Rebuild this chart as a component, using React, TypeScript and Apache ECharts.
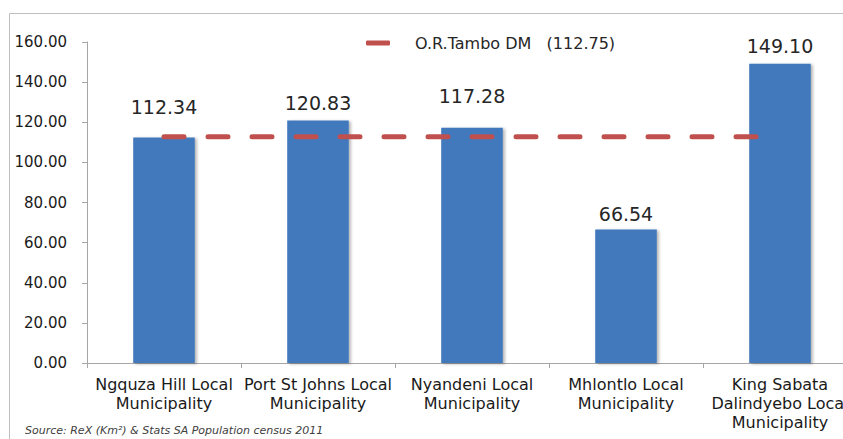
import React, { useEffect, useRef } from "react";
import * as echarts from "echarts";

const categories = [
  "Ngquza Hill Local\nMunicipality",
  "Port St Johns Local\nMunicipality",
  "Nyandeni Local\nMunicipality",
  "Mhlontlo Local\nMunicipality",
  "King Sabata\nDalindyebo Local\nMunicipality",
];
const barValues = [112.34, 120.83, 117.28, 66.54, 149.1];
const labelDistances = [21, 8, 22, 6, 8];
const districtName = "O.R.Tambo DM";
const districtValue = 112.75;
const districtLine = categories.map(() => districtValue);
const yTicks = { min: 0, max: 160, interval: 20 };
const sourceText = "Source: ReX (Km²) & Stats SA Population census 2011";

const FONT = "DejaVu Sans, Verdana, sans-serif";

export default function App() {
  const ref = useRef<HTMLDivElement>(null);
  useEffect(() => {
    if (!ref.current) return;
    const chart = echarts.init(ref.current, undefined, { renderer: "svg" });
    chart.setOption({
      animation: false,
      backgroundColor: "#ffffff",
      textStyle: { fontFamily: FONT },
      grid: { left: 87, top: 42, bottom: 76, right: 0, containLabel: false },
      legend: {
        top: 35,
        left: 366,
        padding: 0,
        itemWidth: 24,
        itemHeight: 5,
        icon: "roundRect",
        data: [{ name: districtName, itemStyle: { color: "#C0504D" } }],
        formatter: () => districtName + "\u00a0\u00a0\u00a0(" + districtValue.toFixed(2) + ")",
        textStyle: { fontSize: 16, color: "#262626", fontFamily: FONT, padding: [0, 0, 0, 20] },
      },
      xAxis: {
        type: "category",
        data: categories,
        axisLine: { show: true, lineStyle: { color: "#A6A6A6", width: 1 } },
        axisTick: { show: true, length: 5, lineStyle: { color: "#A6A6A6" } },
        axisLabel: {
          interval: 0,
          fontSize: 16,
          lineHeight: 19,
          color: "#1a1a1a",
          margin: 12,
          fontFamily: FONT,
        },
      },
      yAxis: {
        type: "value",
        min: yTicks.min,
        max: yTicks.max,
        interval: yTicks.interval,
        axisLine: { show: true, lineStyle: { color: "#A6A6A6", width: 1 } },
        axisTick: { show: true, length: 5, lineStyle: { color: "#A6A6A6" } },
        splitLine: { show: false },
        axisLabel: {
          fontSize: 15,
          color: "#1a1a1a",
          margin: 20,
          fontFamily: FONT,
          formatter: (v: number) => v.toFixed(2),
        },
      },
      series: [
        {
          type: "bar",
          name: "value",
          barWidth: "40%",
          data: barValues.map((v, i) => ({
            value: v,
            label: { distance: labelDistances[i] },
          })),
          itemStyle: {
            color: "#4279BD",
            shadowColor: "rgba(0,0,0,0.3)",
            shadowBlur: 3,
            shadowOffsetX: 2,
            shadowOffsetY: 1,
          },
          label: {
            show: true,
            position: "top",
            fontSize: 19,
            color: "#262626",
            fontFamily: FONT,
            formatter: (p: any) => Number(p.value).toFixed(2),
          },
          z: 2,
        },
        {
          type: "line",
          name: districtName,
          data: districtLine,
          symbol: "none",
          lineStyle: { color: "#C0504D", width: 5, type: [20, 24], cap: "round" },
          z: 3,
        },
      ],
      graphic: [
        {
          type: "polyline",
          shape: { points: [[9.5, 445], [9.5, 13.5], [860, 13.5]] },
          style: { stroke: "#BFBFBF", fill: "none", lineWidth: 1 },
          silent: true,
        },
        {
          type: "text",
          left: 25,
          top: 425,
          style: {
            text: sourceText,
            fontSize: 11,
            fontStyle: "italic",
            fill: "#404040",
            fontFamily: FONT,
          },
        },
      ],
    });
    return () => chart.dispose();
  }, []);
  return (
    <div style={{ width: 843, height: 439, position: "absolute", left: 0, top: 0, overflow: "hidden" }}>
      <div ref={ref} style={{ width: 857, height: 439 }} />
    </div>
  );
}
